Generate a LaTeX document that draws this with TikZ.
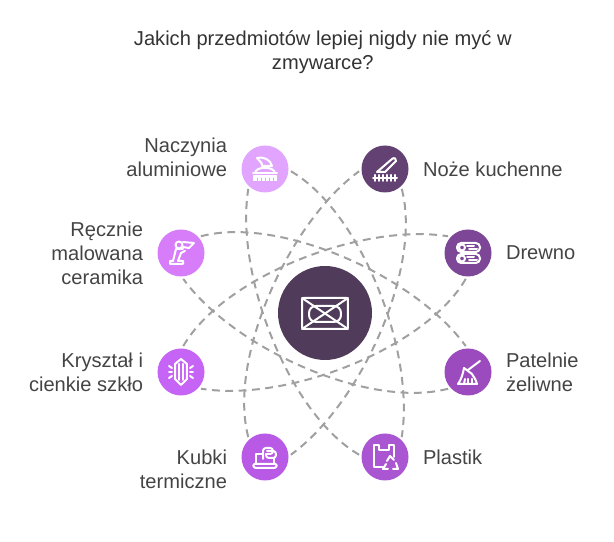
\documentclass[tikz,border=0pt]{standalone}
\usepackage{fontspec}
\setmainfont{Liberation Sans}
\usetikzlibrary{positioning}
\definecolor{darkcenter}{RGB}{80,60,90}
\definecolor{inktext}{RGB}{68,68,68}
\definecolor{dashgrey}{RGB}{160,160,160}
\definecolor{naczyniacol}{RGB}{225,165,255}
\definecolor{nozecol}{RGB}{100,65,115}
\definecolor{drewnocol}{RGB}{125,70,150}
\definecolor{patelniecol}{RGB}{155,75,190}
\definecolor{plastikcol}{RGB}{170,85,210}
\definecolor{kubkicol}{RGB}{185,90,230}
\definecolor{krysztalcol}{RGB}{198,100,245}
\definecolor{recznecol}{RGB}{215,125,250}
\tikzset{
    item/.style={circle, minimum size=1.175cm, inner sep=0pt, outer sep=0.0625cm, fill=#1},
    caption/.style={inner sep=0pt, outer sep=0pt, text=inktext, font=\fontsize{14.3}{17}\selectfont},
    link/.style={draw=dashgrey, line width=0.05cm, dash pattern=on 5.6pt off 3.9pt},
    icon/.style={x=0.025cm, y=-0.025cm, draw=white, line width=0.05cm, line cap=round, line join=round},
}
\begin{document}
\begin{tikzpicture}
    \useasboundingbox (0,0) rectangle (15.35,13.55);
    \node[caption, text=black!80, align=center] (title) at (8.07,12.25) {Jakich przedmiotów lepiej nigdy nie myć w\\zmywarce?};
    \node[circle, minimum size=2.35cm, inner sep=0pt, fill=darkcenter] (center) at (8.125,5.725) {};
    \node[item=naczyniacol] (naczynia) at (6.625,9.325) {};
    \node[item=nozecol] (noze) at (9.625,9.325) {};
    \node[item=drewnocol] (drewno) at (11.7,7.225) {};
    \node[item=patelniecol] (patelnie) at (11.7,4.25) {};
    \node[item=plastikcol] (plastik) at (9.625,2.125) {};
    \node[item=kubkicol] (kubki) at (6.625,2.125) {};
    \node[item=krysztalcol] (krysztal) at (4.525,4.25) {};
    \node[item=recznecol] (reczne) at (4.525,7.225) {};

    \node[caption, align=right, left=0.3cm of naczynia, yshift=0.3cm] (naczynialabel) {Naczynia\\aluminiowe};
    \node[caption, right=0.3cm of noze] (nozelabel) {Noże kuchenne};
    \node[caption, right=0.3cm of drewno] (drewnolabel) {Drewno};
    \node[caption, align=left, right=0.3cm of patelnie] (patelnielabel) {Patelnie\\żeliwne};
    \node[caption, right=0.3cm of plastik] (plastiklabel) {Plastik};
    \node[caption, align=right, left=0.3cm of kubki, yshift=-0.3cm] (kubkilabel) {Kubki\\termiczne};
    \node[caption, align=right, left=0.3cm of krysztal] (krysztallabel) {Kryształ i\\cienkie szkło};
    \node[caption, align=right, left=0.3cm of reczne] (recznelabel) {Ręcznie\\malowana\\ceramika};

    \draw[link] (naczynia.-5) .. controls +(-30:2cm) and +(81:2.2cm) .. (plastik.50);
    \draw[link] (noze.-50) .. controls +(-75:2cm) and +(36:2.2cm) .. (kubki.5);
    \draw[link] (drewno.-95) .. controls +(-120:2cm) and +(-9:2.2cm) .. (krysztal.-40);
    \draw[link] (patelnie.-140) .. controls +(-165:2cm) and +(-54:2.2cm) .. (reczne.-85);
    \draw[link] (plastik.175) .. controls +(150:2cm) and +(-99:2.2cm) .. (naczynia.230);
    \draw[link] (kubki.130) .. controls +(105:2cm) and +(-144:2.2cm) .. (noze.185);
    \draw[link] (krysztal.85) .. controls +(60:2cm) and +(171:2.2cm) .. (drewno.140);
    \draw[link] (reczne.40) .. controls +(15:2cm) and +(126:2.2cm) .. (patelnie.95);

    \begin{scope}[shift={(center)}, icon]
        \draw[rounded corners=1pt] (-23,-15) rectangle (23,16);
        \draw (-23,-15) -- (23,16);
        \draw (23,-15) -- (-23,16);
        \draw[rounded corners=5pt] (-16,-7) -- (16,-7) -- (16,9) -- (-16,9) -- cycle;
    \end{scope}
    \begin{scope}[shift={(naczynia)}, icon]
        \draw (-8,-11) .. controls (-2,-13) and (6,-9) .. (7,-3) -- (-3,-3) .. controls (-2,-6) and (-6,-8) .. (-8,-11);
        \draw (-10,4) .. controls (-9,-3) and (9,-3) .. (10,4);
        \draw (-12,4) -- (12,4);
        \fill[white] (-12,6) rectangle (12,12);
        \foreach \gap in {-8,-4,0,4,8} {
            \draw[draw=naczyniacol, line width=0.02cm] (\gap,9) -- (\gap,12);
        }
    \end{scope}
    \begin{scope}[shift={(noze)}, icon]
        \draw (-8,3) -- (7,-10) .. controls (9,-12) and (12,-10) .. (11,-8) -- (0,3) -- cycle;
        \draw (-12,9) -- (12,9);
        \foreach \tick in {-10,-6,-2,2,6,10} {
            \draw (\tick,6) -- (\tick,12);
        }
    \end{scope}
    \begin{scope}[shift={(drewno)}, icon]
        \draw[rounded corners=3pt] (-11,-10) rectangle (12,-1);
        \draw[rounded corners=3pt] (-11,1) rectangle (12,10);
        \draw (-6,-5.5) circle[radius=3];
        \draw (-6,5.5) circle[radius=3];
        \draw (-1,-7) -- (6,-7);
        \draw (-1,4) -- (6,4);
        \draw (1,-4) -- (9,-4);
        \draw (1,7) -- (9,7);
    \end{scope}
    \begin{scope}[shift={(patelnie)}, icon]
        \draw (12,-11) -- (0,-2);
        \draw (-4,-4) -- (4,2);
        \draw (-4,-4) .. controls (-5,2) and (-7,8) .. (-10,12) -- (9,12) .. controls (8,8) and (6,5) .. (4,2);
        \draw (-4,12) -- (-3,7);
        \draw (0,12) -- (0,7);
        \draw (4,12) -- (4,7);
    \end{scope}
    \begin{scope}[shift={(plastik)}, icon]
        \draw (-2,10) -- (-11,10) -- (-11,-12) -- (-6,-12) -- (-6,-7) -- (4,-7) -- (4,-12) -- (9,-12) -- (9,0);
        \draw (2,4) -- (5,-1) -- (9,3);
        \draw (11,6) -- (13,12) -- (8,12);
        \draw (3,12) -- (-2,12) -- (1,7);
    \end{scope}
    \begin{scope}[shift={(kubki)}, icon]
        \draw (-2,-3) -- (-9,-3) -- (-9,7);
        \draw (9,1) -- (9,7);
        \draw[rounded corners=1pt] (-12,7) -- (12,7) -- (11,11) -- (-11,11) -- cycle;
        \draw[rounded corners=2pt] (-2,2) -- (-2,-9) -- (8,-9) -- (8,-3) -- (2,-3);
        \draw[rounded corners=2pt] (2,-6) -- (11,-6) -- (11,1) -- (1,1) -- (1,-3);
    \end{scope}
    \begin{scope}[shift={(krysztal)}, icon]
        \draw (0,-13) -- (6,-8) -- (6,7) -- (0,13) -- (-6,7) -- (-6,-8) -- cycle;
        \draw (-2,-8) -- (-2,8);
        \draw (2,-8) -- (2,8);
        \draw (-12,0) -- (-9,0);
        \draw (9,0) -- (12,0);
        \draw (-12,-6) -- (-9,-4);
        \draw (12,-6) -- (9,-4);
        \draw (-12,6) -- (-9,4);
        \draw (12,6) -- (9,4);
    \end{scope}
    \begin{scope}[shift={(reczne)}, icon]
        \draw (-2,-8) circle[radius=3.5];
        \draw (2,-11) -- (13,-10) -- (8,-5) -- (2,-6);
        \draw (2,-4) -- (-5,-4) -- (-8,8) -- (-11,8) -- (-11,11) -- (2,11) -- (2,8) -- (-3,8) -- (0,0) -- (4,-2);
    \end{scope}
\end{tikzpicture}
\end{document}
